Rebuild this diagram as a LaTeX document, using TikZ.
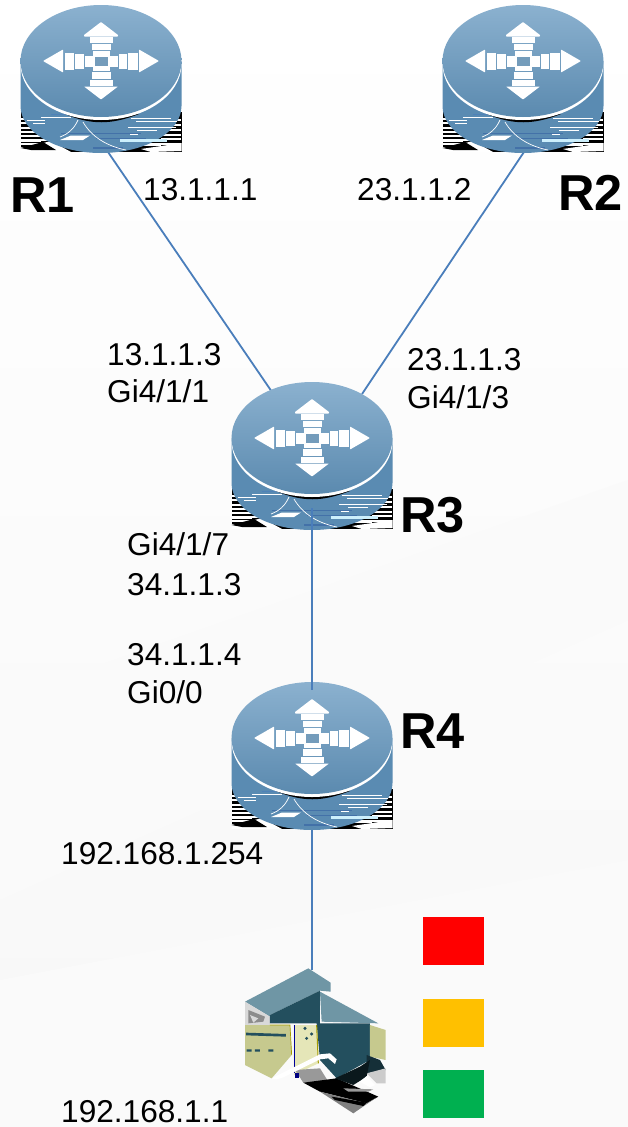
\documentclass[tikz,border=0pt]{standalone}
\usepackage{fontspec}
\setmainfont{Liberation Sans}
\definecolor{linkblue}{HTML}{4A7EBB}
\definecolor{rtop}{HTML}{8BB1CF}
\definecolor{rmid}{HTML}{5B8AAF}
\definecolor{rbody}{HTML}{5A8BB2}
\definecolor{hroof}{HTML}{6F96A5}
\definecolor{hdark}{HTML}{234F5E}
\definecolor{hpanel}{HTML}{C6C98E}
\definecolor{hdoor}{HTML}{E5E6B8}
\tikzset{
  x=1pt,y=-1pt,
  link/.style={draw=linkblue,line width=1.8pt},
  lbl/.style={anchor=base west,inner sep=0pt,font=\fontsize{31.6}{33}\selectfont},
  rname/.style={anchor=base west,inner sep=0pt,font=\fontsize{50.5}{54}\selectfont\bfseries},
  swatch/.style={anchor=north west,inner sep=0pt,minimum width=61pt,minimum height=48pt},
  wf/.style={fill=white,draw=none},
  router/.pic={
    % noisy corners
    \fill[black] (-80.5,51) rectangle (80.5,91);
    \foreach \yy/\xa/\xb in {57/-80/-72,61/-80/-70,66/-80/-62,70/-80/-58,74/-80/-50,78/-80/-46,82/-80/-52,86/-80/-60,58/72/80,63/66/80,68/62/80,73/52/80,77/60/80,82/46/80,86/56/80,79/-80/-60,83/40/60}
      \fill[white] (\xa,\yy) rectangle (\xb,\yy+1.6);
    \fill[white] (-80.5,88) -- (-50,80) -- (-30,91) -- (-80.5,91) -- cycle;
    \fill[black] (-80.5,87) -- (-58,81) -- (-45,89) -- (-70,89) -- cycle;
    \fill[white] (40,88) -- (80.5,82) -- (80.5,90) -- (50,91) -- cycle;
    % body
    \fill[rbody] (-80.5,0) -- (-80.5,45) arc[x radius=80.5,y radius=-47,start angle=180,end angle=360] -- (80.5,0) -- cycle;
    \fill[linkblue!70!rbody] (-50,53) rectangle (-33,53.8);
    \fill[linkblue!90!black] (-5,77) rectangle (45,78);
    \fill[linkblue!90!black] (-40,72) rectangle (40,73);
    \fill[linkblue!90!black] (-8,86) rectangle (22,87.5);
    % highlights
    \foreach \xa/\xb/\yy in {-74/-56/59,-68/-56/62,-11/-1/56,27/75/66,36/56/69,29/37/73,30/70/57,35/76/60,-60/-30/56}
      \fill[white] (\xa,\yy) rectangle (\xb,\yy+1);
    \fill[white!80!cyan] (19,78) rectangle (66,81);
    \fill[white] (-41,79) -- (-30,74.5) -- (-11,74.5) -- (-18,79) -- cycle;
    \draw[white,line width=.7pt] (-23,59) .. controls (-27,68) and (-33,73) .. (-41,76);
    \draw[white,line width=.7pt] (-18,61) .. controls (-10,75) and (5,85) .. (25,89);
    % crescent
    \fill[black] (-36,53) .. controls (-10,64) and (10,64) .. (38,53) -- cycle;
    \fill[white] (0,3) ellipse[x radius=80.5,y radius=56];
    \shade[top color=rtop,bottom color=rmid] (0,0) ellipse[x radius=80.5,y radius=56];
    % cross of arrows
    \fill[wf,rounded corners=.6pt] (0,-39) -- (17,-26) -- (17,-24.5) -- (-17,-24.5) -- (-17,-26) -- cycle;
    \fill[wf] (-11.5,-24) rectangle (11.5,-18.5);
    \fill[wf] (-9.5,-17.5) rectangle (9.5,-11);
    \fill[wf] (-8.5,-10) rectangle (8.5,9.5);
    \fill[rmid!85!white] (-6.5,-4) rectangle (6.5,4.5);
    \fill[wf] (-9.5,10.5) rectangle (9.5,18);
    \fill[wf] (-11.5,19) rectangle (11.5,25);
    \fill[wf,rounded corners=.6pt] (0,38.5) -- (17,25.5) -- (-17,25.5) -- cycle;
    \fill[wf,rounded corners=.6pt] (-58,0) -- (-38,-11.5) -- (-38,11.5) -- cycle;
    \fill[wf,rounded corners=.6pt] (58,0) -- (38,-11.5) -- (38,11.5) -- cycle;
    \fill[wf] (-36.5,-8.5) rectangle (-27,9);
    \fill[wf] (-26,-7) rectangle (-17.5,7.5);
    \fill[wf] (-16.5,-5.5) rectangle (-8,5.5);
    \fill[wf] (36.5,-8.5) rectangle (27,9);
    \fill[wf] (26,-7) rectangle (17.5,7.5);
    \fill[wf] (16.5,-5.5) rectangle (8,5.5);
  }
}
\begin{document}
\begin{tikzpicture}
\useasboundingbox (0,0) rectangle (628,1127);
\shade[top color=white,bottom color=white!97!black] (0,0) rectangle (628,1127);
\fill[white!98!black] (0,700) -- (628,480) -- (628,620) -- (0,900) -- cycle;
\fill[white!98!black] (0,980) -- (628,860) -- (628,1127) -- (0,1127) -- cycle;

% connector ends
\coordinate (r1a) at (108,152);
\coordinate (r3a) at (272,392);
\coordinate (r2a) at (524,152);
\coordinate (r3b) at (362,394);
\coordinate (r3c) at (312,508);
\coordinate (r4a) at (312,690);
\coordinate (r4c) at (312,790);
\coordinate (pc)  at (312,970);
\draw[link] (r1a) -- (r3a);
\draw[link] (r2a) -- (r3b);
\draw[link] (r4c) -- (pc);

\pic at (101,61) {router};
\pic at (523,61) {router};
\pic at (312,438) {router};
\pic at (312,738) {router};
\draw[link] (r3c) -- (r4a);

% host
\begin{scope}[shift={(220,960)},x=.3333pt,y=-.3333pt]
  \fill[hroof] (75,125) -- (265,25) -- (332,68) -- (332,95) -- (300,92) -- (150,165) -- (150,170) -- cycle;
  \fill[black!15!white] (75,125) -- (150,170) -- (150,195) -- (75,195) -- cycle;
  \fill[black!45!white] (85,150) -- (135,170) -- (130,185) -- (85,190) -- cycle;
  \fill[white!85!black] (90,165) -- (115,175) -- (100,188) -- cycle;
  \fill[hdark] (150,165) -- (300,92) -- (300,190) -- (450,190) -- (450,300) -- (350,355) -- (300,300) -- (290,190) -- (150,190) -- cycle;
  \fill[hroof] (300,95) -- (475,190) -- (305,185) -- cycle;
  \fill[hpanel] (75,195) -- (210,195) -- (215,285) -- (155,355) -- (75,315) -- cycle;
  \draw[olive!80!yellow,line width=.7pt] (150,195) -- (210,195) -- (215,285);
  \fill[hdark] (78,218) -- (198,222) -- (198,230) -- (78,226) -- cycle;
  \fill[hdark] (80,268) rectangle (95,275) (105,268) rectangle (120,275) (145,268) rectangle (160,275);
  \fill[hdoor] (222,195) -- (290,195) -- (295,310) -- (222,345) -- cycle;
  \draw[blue!60!black,line width=.6pt] (222,195) -- (222,340);
  \draw[olive!80!yellow,line width=1pt] (290,195) -- (295,310);
  \fill[hdark] (255,205) circle (5) (275,222) circle (5) (260,235) circle (5);
  \fill[hpanel] (450,195) -- (497,210) -- (497,300) -- (450,290) -- cycle;
  \fill[hdark!60!black] (440,285) -- (480,300) -- (497,330) -- (440,340) -- cycle;
  \fill[black!20!white] (440,340) -- (497,325) -- (497,370) -- (470,370) -- cycle;
  \fill[black!40!white] (225,330) -- (300,325) -- (325,365) -- (250,368) -- cycle;
  \fill[blue!50!black] (225,340) rectangle (237,355);
  \fill[black] (250,368) -- (350,355) -- (475,410) -- (440,430) -- (300,395) -- cycle;
  \fill[black!50!white] (300,395) -- (440,430) -- (470,412) -- (400,460) -- cycle;
  \fill[black] (335,410) -- (440,428) -- (430,438) -- (345,420) -- cycle;
  \fill[black!40!white] (370,385) -- (460,388) -- (445,395) -- (385,395) -- cycle;
  \fill[black!70!hdark] (345,355) -- (420,320) -- (450,300) -- (440,350) -- (400,375) -- cycle;
  \fill[white] (155,355) -- (300,283) -- (330,280) -- (350,298) -- (345,312) -- (325,295) -- (300,298) -- (190,352) -- (170,358) -- cycle;
  \fill[white] (420,365) -- (440,348) -- (465,375) -- (450,382) -- cycle;
\end{scope}

% legend swatches
\node[swatch,fill=red] (sw1) at (423,917) {};
\node[swatch,fill={rgb,255:red,255;green,192;blue,0}] (sw2) at (423,999) {};
\node[swatch,fill={rgb,255:red,0;green,176;blue,80}] (sw3) at (423,1070) {};

% labels
\node[lbl] (l1) at (143,200) {13.1.1.1};
\node[lbl] (l2) at (357,200) {23.1.1.2};
\node[lbl] (l3) at (107,365) {13.1.1.3};
\node[lbl] (l4) at (107,402) {Gi4/1/1};
\node[lbl] (l5) at (407,370) {23.1.1.3};
\node[lbl] (l6) at (407,408) {Gi4/1/3};
\node[lbl] (l7) at (127,555) {Gi4/1/7};
\node[lbl] (l8) at (127,595) {34.1.1.3};
\node[lbl] (l9) at (127,665) {34.1.1.4};
\node[lbl] (l10) at (127,703) {Gi0/0};
\node[lbl] (l11) at (61,864) {192.168.1.254};
\node[lbl] (l12) at (61,1122) {192.168.1.1};
\node[rname] (n1) at (10,212) {R1};
\node[rname] (n2) at (558,210) {R2};
\node[rname] (n3) at (400,532) {R3};
\node[rname] (n4) at (400,748) {R4};
\end{tikzpicture}
\end{document}
